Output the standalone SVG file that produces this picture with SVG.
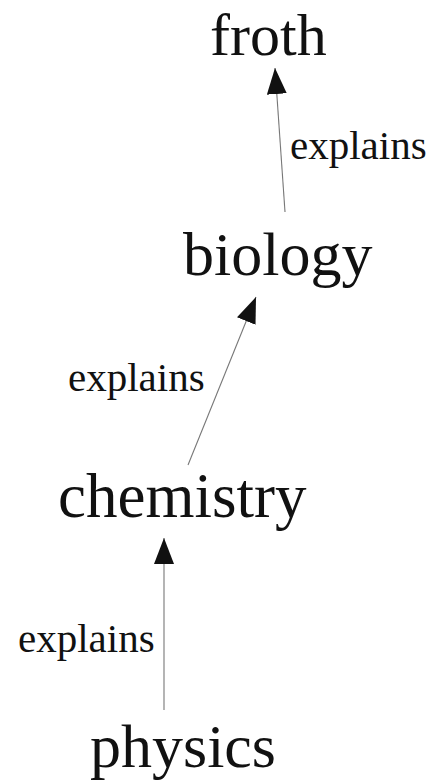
<svg xmlns="http://www.w3.org/2000/svg" width="438" height="783" viewBox="0 0 438 783">
<style>
.node{font-family:"Liberation Serif","Times New Roman",serif;font-size:62px;fill:#111}
.lbl{font-family:"Liberation Serif","Times New Roman",serif;font-size:41px;fill:#111}
.conn{stroke:#777;stroke-width:1.1;fill:none;marker-end:url(#ah)}
</style>
<defs>
<marker id="ah" viewBox="0 0 26 20" refX="26" refY="10" markerWidth="26" markerHeight="20" markerUnits="userSpaceOnUse" orient="auto">
<path d="M0,0 L26,10 L0,20 z" fill="#111"/>
</marker>
</defs>
<rect width="438" height="783" fill="#fff"/>
<g id="connectors">
<line class="conn" x1="285" y1="212" x2="275" y2="68"/>
<line class="conn" x1="188" y1="465" x2="256" y2="297"/>
<line class="conn" x1="164" y1="710" x2="164" y2="538"/>
</g>
<g id="labels">
<text class="lbl" x="290" y="159">explains</text>
<text class="lbl" x="68" y="391">explains</text>
<text class="lbl" x="18" y="652">explains</text>
</g>
<g id="froth"><text class="node" x="210" y="55" style="font-size:60px">froth</text></g>
<g id="biology"><text class="node" x="183" y="275">biology</text></g>
<g id="chemistry"><text class="node" x="58" y="517" style="font-size:63px">chemistry</text></g>
<g id="physics"><text class="node" x="90" y="767">physics</text></g>
</svg>
